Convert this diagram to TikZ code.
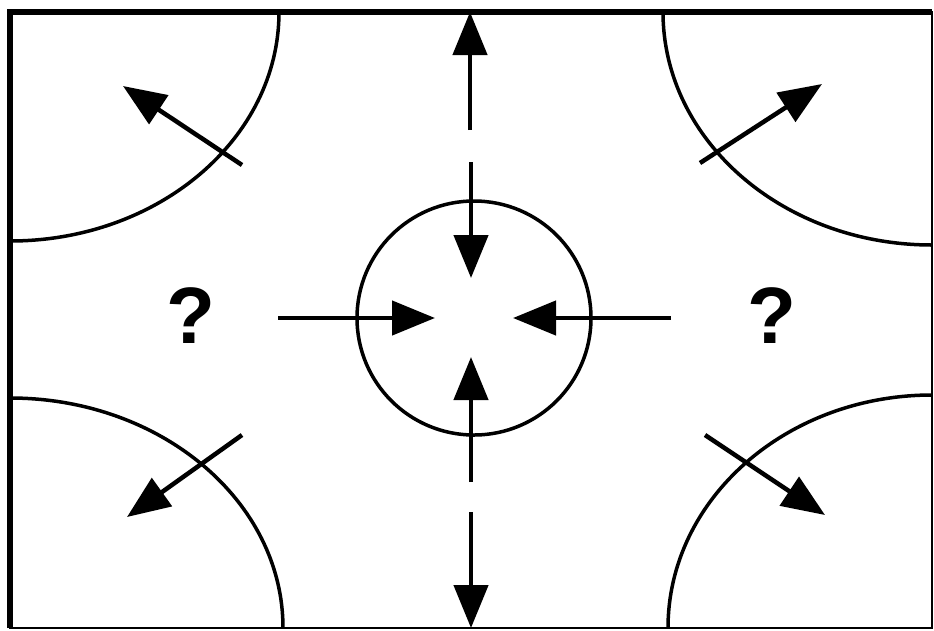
\documentclass[tikz,border=0pt]{standalone}
\usepackage{fontspec}
\setmainfont{Liberation Sans}
\usetikzlibrary{arrows.meta}
\begin{document}
\begin{tikzpicture}[x=1pt,y=-1pt,
  shaft/.style={line width=4.5pt,-{Triangle[length=43pt,width=34pt]}},
  curve/.style={line width=3.5pt},
  qmark/.style={font=\fontsize{80}{80}\bfseries\selectfont,inner sep=0pt,anchor=base}]
\useasboundingbox (0,0) rectangle (934,630);
\fill[white] (0,0) rectangle (934,630);
% frame corners
\coordinate (TL) at (10,12);
\coordinate (TR) at (932,12);
\coordinate (BL) at (10,628);
\coordinate (BR) at (932,628);
\begin{scope}
\clip (TL) rectangle (BR);
\draw[curve] (TL) ellipse [x radius=269pt, y radius=229pt];
\draw[curve] (TR) ellipse [x radius=269pt, y radius=233pt];
\draw[curve] (BL) ellipse [x radius=273pt, y radius=230pt];
\draw[curve] (BR) ellipse [x radius=264pt, y radius=233pt];
\end{scope}
% frame
\draw[line width=1.5pt] (TL) rectangle (BR);
\draw[line width=6pt] (BL) -- (TL) -- (TR);
% central circle
\coordinate (C) at (474,318);
\draw[curve] (C) circle [radius=117pt];
% vertical arrows
\coordinate (t1) at (470,130);
\coordinate (t2) at (470,12);
\coordinate (t3) at (471,162);
\coordinate (t4) at (471,278);
\draw[shaft] (t1) -- (t2);
\draw[shaft] (t3) -- (t4);
\coordinate (b1) at (471,482);
\coordinate (b2) at (471,357);
\coordinate (b3) at (471,512);
\coordinate (b4) at (471,628);
\draw[shaft] (b1) -- (b2);
\draw[shaft] (b3) -- (b4);
% horizontal arrows
\coordinate (l1) at (278,318);
\coordinate (l2) at (435,318);
\coordinate (r1) at (671,318);
\coordinate (r2) at (513,318);
\draw[shaft] (l1) -- (l2);
\draw[shaft] (r1) -- (r2);
% diagonal arrows
\coordinate (d1a) at (242,165); \coordinate (d1b) at (123,86);
\coordinate (d2a) at (700,163); \coordinate (d2b) at (822,84);
\coordinate (d3a) at (242,435); \coordinate (d3b) at (127,517);
\coordinate (d4a) at (705,435); \coordinate (d4b) at (825,515);
\draw[shaft] (d1a) -- (d1b);
\draw[shaft] (d2a) -- (d2b);
\draw[shaft] (d3a) -- (d3b);
\draw[shaft] (d4a) -- (d4b);
% question marks
\node[qmark] (q1) at (191,343) {?};
\node[qmark] (q2) at (772,343) {?};
\end{tikzpicture}
\end{document}
